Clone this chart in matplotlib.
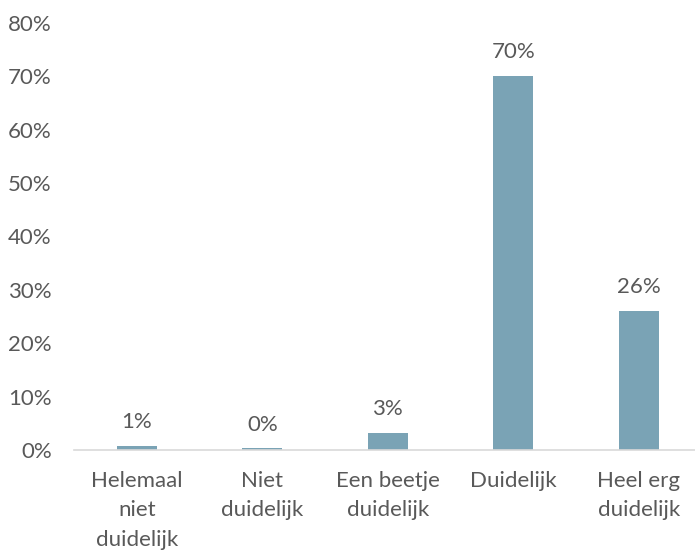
import matplotlib.pyplot as plt
import numpy as np

categorieen = ["Helemaal\nniet\nduidelijk", "Niet\nduidelijk", "Een beetje\nduidelijk",
               "Duidelijk", "Heel erg\nduidelijk"]
percentages = [0.8, 0.3, 3.2, 70.0, 26.0]
y_ticks = [0, 10, 20, 30, 40, 50, 60, 70, 80]

plt.rcParams['font.family'] = ['Lato', 'DejaVu Sans']
tekstkleur = "#595959"
balkkleur = "#7AA3B5"
fs = 16

fig = plt.figure(figsize=(6.95, 5.51), dpi=100)
ax = fig.add_axes([74 / 695, 101 / 551, (695 - 74) / 695, (450 - 23) / 551])

x = np.arange(len(categorieen))
balken = ax.bar(x, percentages, width=0.32, color=balkkleur)

for xi, v in zip(x, percentages):
    ax.annotate("%d%%" % round(v), (xi, v), xytext=(0, 10), textcoords="offset points",
                ha="center", va="bottom", fontsize=fs, color=tekstkleur)

ax.set_xlim(-0.5, (695 - 74) / 125.5 - 0.5)
ax.set_ylim(0, 80)
ax.set_yticks(y_ticks)
ax.set_yticklabels(["%d%%" % t for t in y_ticks], fontsize=fs, color=tekstkleur)
ax.set_xticks(x)
ax.set_xticklabels(categorieen, fontsize=fs, color=tekstkleur, linespacing=1.6)

for s in ["top", "right", "left"]:
    ax.spines[s].set_visible(False)
ax.spines["bottom"].set_color("#D9D9D9")
ax.spines["bottom"].set_linewidth(1.2)
ax.tick_params(axis="both", length=0)
ax.tick_params(axis="x", pad=15)
ax.tick_params(axis="y", pad=16)

fig.savefig("out.png", dpi=100)
